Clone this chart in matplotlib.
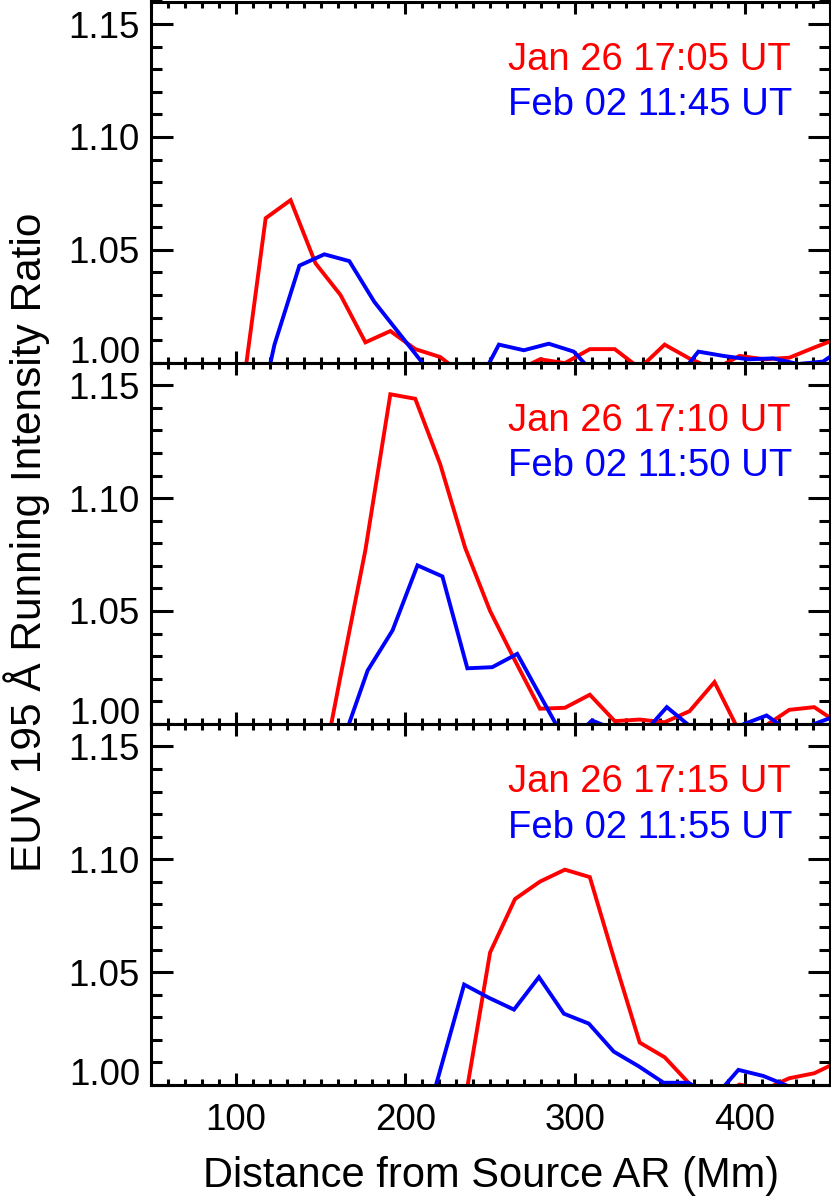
import matplotlib
matplotlib.use("Agg")
import matplotlib.pyplot as plt
from matplotlib.ticker import MultipleLocator

plt.rcParams['font.family'] = ['Liberation Sans', 'DejaVu Sans']

# Jan 26 (red) / Feb 02 (blue), distance (Mm) and 195 A running ratio
dist_jan_1705 = [102.9, 117.6, 132.3, 147.0, 161.7, 176.4, 191.1, 205.8, 220.5, 235.2, 249.9, 264.6, 279.3,
                 294.0, 308.7, 323.4, 338.1, 352.8, 367.5, 382.2, 396.9, 411.6, 426.3, 441.0, 455.7]
ratio_jan_1705 = [0.981, 1.064, 1.072, 1.044, 1.030, 1.009, 1.014, 1.006, 1.0025, 0.994, 0.990, 0.996, 1.0015,
                  0.9998, 1.006, 1.006, 0.9975, 1.008, 1.0018, 0.997, 1.003, 1.0015, 1.0022, 1.0067, 1.011]
dist_feb_1145 = [108.1, 122.8, 137.5, 152.2, 166.9, 181.6, 196.3, 211.0, 225.7, 240.4, 255.1, 269.8, 284.5,
                 299.2, 313.9, 328.6, 343.3, 358.0, 372.7, 387.4, 402.1, 416.8, 431.5, 446.2, 460.9]
ratio_feb_1145 = [0.958, 1.008, 1.043, 1.048, 1.045, 1.027, 1.013, 0.999, 0.985, 0.987, 1.008, 1.0055, 1.0084,
                  1.0049, 0.993, 0.990, 0.990, 0.991, 1.0049, 1.003, 1.0015, 1.0019, 0.9994, 1.0005, 1.008]

dist_jan_1710 = [147.0, 161.7, 176.4, 191.1, 205.8, 220.5, 235.2, 249.9, 264.6, 279.3, 294.0, 308.7, 323.4,
                 338.1, 352.8, 367.5, 382.2, 396.9, 411.6, 426.3, 441.0, 455.7]
ratio_jan_1710 = [0.964, 1.021, 1.077, 1.146, 1.144, 1.115, 1.078, 1.050, 1.028, 1.0067, 1.0071, 1.0129, 1.0012,
                  1.0019, 1.0007, 1.0056, 1.0185, 0.9964, 0.9988, 1.0062, 1.0074, 1.000]
dist_feb_1150 = [163.0, 177.7, 192.4, 207.1, 221.8, 236.5, 251.2, 265.9, 280.6, 295.3, 310.0, 324.7, 339.4,
                 354.1, 368.8, 383.5, 398.2, 412.9, 427.6, 442.3, 457.0]
ratio_feb_1150 = [0.992, 1.0236, 1.0414, 1.0702, 1.0653, 1.0246, 1.0251, 1.031, 1.0109, 0.991, 1.0015, 0.997,
                  0.995, 1.0074, 0.9983, 0.995, 0.9995, 1.0037, 0.996, 1.0003, 1.0044]

dist_jan_1715 = [235.2, 249.9, 264.6, 279.3, 294.0, 308.7, 323.4, 338.1, 352.8, 367.5, 382.2, 396.9, 411.6,
                 426.3, 441.0, 455.7]
ratio_jan_1715 = [0.9933, 1.0587, 1.0824, 1.0901, 1.0954, 1.0921, 1.0549, 1.0188, 1.0123, 1.0005, 0.994, 1.0002,
                  0.998, 1.003, 1.0052, 1.0105]
dist_feb_1155 = [205.2, 219.9, 234.6, 249.3, 264.0, 278.7, 293.4, 308.1, 322.8, 337.5, 352.2, 366.9, 381.6,
                 396.3, 411.0, 425.7, 440.4, 455.1]
ratio_feb_1155 = [0.966, 1.005, 1.0445, 1.0386, 1.0334, 1.0478, 1.0316, 1.0272, 1.0148, 1.0083, 1.001, 1.001,
                  0.994, 1.0067, 1.004, 0.9995, 0.990, 0.990]

labels_jan = ["Jan 26 17:05 UT", "Jan 26 17:10 UT", "Jan 26 17:15 UT"]
labels_feb = ["Feb 02 11:45 UT", "Feb 02 11:50 UT", "Feb 02 11:55 UT"]
ytick_vals = [1.00, 1.05, 1.10, 1.15]
ytick_labels = ["1.00", "1.05", "1.10", "1.15"]
xtick_vals = [100, 200, 300, 400]

panels = [
    (dist_jan_1705, ratio_jan_1705, dist_feb_1145, ratio_feb_1145),
    (dist_jan_1710, ratio_jan_1710, dist_feb_1150, ratio_feb_1150),
    (dist_jan_1715, ratio_jan_1715, dist_feb_1155, ratio_feb_1155),
]

W, H = 831, 1196
fig = plt.figure(figsize=(W / 100, H / 100), dpi=100)

left = 151 / W
width = (829.5 - 151) / W
top_px, bot_px = 1.5, 1085
ph = (bot_px - top_px) / 3

axes = []
for k, (xr, yr, xb, yb) in enumerate(panels):
    y0 = H - (top_px + (k + 1) * ph)
    ax = fig.add_axes([left, y0 / H, width, ph / H])
    ax.plot(xr, yr, color='#ff0000', lw=2.8, solid_joinstyle='miter')
    ax.plot(xb, yb, color='#0000ff', lw=2.8, solid_joinstyle='miter')
    ax.set_xlim(50, 450)
    ax.set_ylim(1.0, 1.16)
    ax.set_xticks(xtick_vals)
    ax.xaxis.set_minor_locator(MultipleLocator(10))
    ax.yaxis.set_minor_locator(MultipleLocator(0.01))
    ax.set_yticks(ytick_vals)
    ax.set_yticklabels(ytick_labels)
    for s in ax.spines.values():
        s.set_linewidth(2.2)
    ax.tick_params(which='both', direction='in', top=True, right=True, width=2.2)
    ax.tick_params(axis='y', which='major', length=16, labelsize=26.5, pad=8)
    ax.tick_params(axis='y', which='minor', length=8)
    ax.tick_params(axis='x', which='major', length=8.5, labelsize=26.5, pad=13)
    ax.tick_params(axis='x', which='minor', length=4.5)
    if k < 2:
        ax.tick_params(axis='x', labelbottom=False)
    ticks = ax.yaxis.get_major_ticks()
    ticks[0].label1.set_verticalalignment('baseline')

    ax.text(0.5265, 0.81, labels_jan[k], transform=ax.transAxes, color='#ff0000',
            fontsize=27.5, ha='left', va='baseline')
    ax.text(0.5265, 0.685, labels_feb[k], transform=ax.transAxes, color='#0000ff',
            fontsize=27.5, ha='left', va='baseline')
    axes.append(ax)

fig.text(491 / W, 1 - 1186.7 / H, "Distance from Source AR (Mm)", fontsize=30,
         ha='center', va='baseline')
fig.text(27 / W, 1 - 542 / H, "EUV 195 Å Running Intensity Ratio", fontsize=30.5,
         rotation=90, ha='center', va='center')

fig.savefig("out.png", dpi=100)
